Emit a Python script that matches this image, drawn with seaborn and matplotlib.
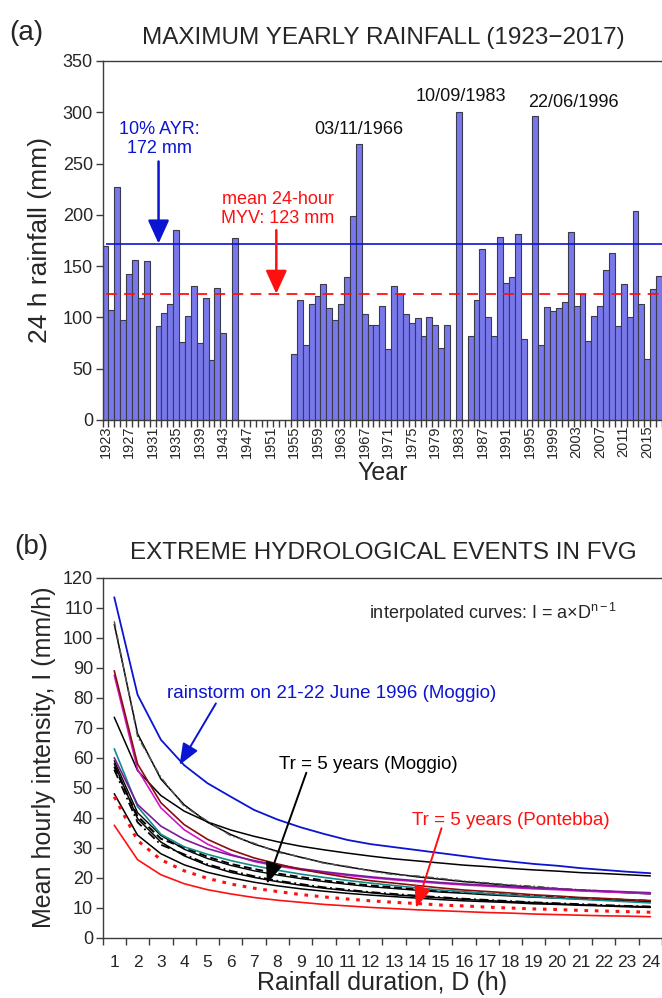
import numpy as np
import pandas as pd
import matplotlib
matplotlib.use("Agg")
import matplotlib.pyplot as plt
import seaborn as sns

# ---------------------------------------------------------------- data (a)
years = list(range(1923, 2018))
rain_24h = [
    170, 107, 227, 97, 142, 156, 119, 155, None, 92,      # 1923-1932
    104, 113, 185, 76, 101, 131, 75, 119, 58, 129,        # 1933-1942
    85, None, 177, None, None, None, None, None, None, None,  # 1943-1952
    None, None, 64, 117, 73, 113, 121, 133, 109, 97,      # 1953-1962
    113, 139, 199, 269, 103, 93, 93, 111, 69, 131,        # 1963-1972
    123, 103, 95, 99, 82, 100, 93, 70, 93, None,          # 1973-1982
    300, None, 82, 117, 167, 100, 82, 178, 134, 139,      # 1983-1992
    181, 79, None, 296, 73, 110, 106, 109, 115, 183,      # 1993-2002
    111, 123, 77, 101, 111, 146, 163, 92, 133, 100,       # 2003-2012
    204, 113, 59, 128, 140,                               # 2013-2017
]
ayr_10pct = 172      # 10 % annual yearly rainfall threshold (mm)
mean_myv = 123       # mean 24-hour maximum yearly value (mm)
event_dates = ["03/11/1966", "10/09/1983", "22/06/1996"]
event_label_years = [1966, 1983.3, 2002.4]
event_label_values = [283, 315, 310]

# ---------------------------------------------------------------- data (b)
duration_h = list(range(1, 25))
i_rainstorm_1996 = [113.5, 81.0, 66.0, 57.5, 51.5, 47.0, 42.6, 39.4, 36.8, 34.6, 32.6, 31.2,
                    30.2, 29.2, 28.2, 27.2, 26.2, 25.4, 24.6, 24.0, 23.2, 22.6, 22.0, 21.5]
i_black_upper = [73.5, 55.7, 47.4, 42.2, 38.6, 35.9, 33.8, 32.0, 30.5, 29.3, 28.2, 27.2,
                 26.3, 25.6, 24.9, 24.2, 23.7, 23.1, 22.6, 22.2, 21.7, 21.4, 21.0, 20.6]
i_black_steep = [104.5, 68.0, 52.9, 44.3, 38.5, 34.4, 31.2, 28.8, 26.8, 25.0, 23.6, 22.4,
                 21.3, 20.3, 19.5, 18.7, 18.1, 17.4, 16.8, 16.3, 15.8, 15.4, 15.0, 14.6]
i_black_steep_obs = [105.5, 67.0, 53.5, 43.8, 38.9, 34.0, 31.5, 28.5, 27.0, 24.8, 23.8, 22.2,
                     21.0, 20.6, 19.8, 18.9, 18.3, 17.6, 17.2, 16.5, 16.0, 15.6, 15.1, 14.8]
i_maroon = [89.0, 57.9, 45.0, 37.7, 32.8, 29.3, 26.6, 24.6, 22.8, 21.4, 20.1, 19.0,
            18.2, 17.4, 16.6, 15.9, 15.4, 14.9, 14.3, 13.9, 13.4, 13.1, 12.7, 12.4]
i_magenta = [87.5, 56.1, 43.3, 36.0, 31.2, 27.8, 25.4, 23.9, 22.7, 21.7, 20.8, 20.0,
             19.3, 18.7, 18.1, 17.6, 17.2, 16.7, 16.3, 16.0, 15.6, 15.3, 15.0, 14.7]
i_purple = [60.0, 44.4, 37.2, 32.8, 29.7, 27.5, 25.7, 24.2, 23.0, 22.0, 21.1, 20.3,
            19.6, 19.0, 18.4, 17.9, 17.5, 17.0, 16.6, 16.3, 15.9, 15.6, 15.3, 15.0]
i_teal = [63.0, 43.7, 34.5, 30.3, 27.8, 25.7, 24.0, 22.5, 21.2, 20.1, 19.1, 18.2,
          17.4, 16.6, 15.9, 15.3, 14.7, 14.2, 13.7, 13.2, 12.8, 12.4, 12.0, 11.6]
i_black_mid = [59.0, 41.7, 34.1, 29.5, 26.4, 24.1, 22.3, 20.9, 19.7, 18.7, 17.8, 17.0,
               16.4, 15.8, 15.2, 14.8, 14.3, 13.9, 13.5, 13.2, 12.9, 12.6, 12.3, 12.0]
i_black_mid_obs = [57.0, 40.5, 33.0, 30.0, 27.0, 24.6, 22.9, 21.4, 20.2, 19.1, 18.2, 17.4,
                   16.8, 16.1, 15.6, 15.1, 14.7, 14.3, 13.9, 13.5, 13.2, 12.9, 12.6, 12.3]
i_black_low = [58.0, 39.7, 31.9, 27.3, 24.1, 21.8, 20.1, 18.7, 17.5, 16.5, 15.7, 15.0,
               14.3, 13.8, 13.3, 12.8, 12.4, 12.0, 11.7, 11.3, 11.0, 10.7, 10.5, 10.3]
i_black_low_obs = [56.0, 38.5, 31.0, 27.8, 24.5, 22.3, 20.5, 19.0, 17.9, 16.8, 16.0, 15.2,
                   14.6, 14.0, 13.5, 13.0, 12.6, 12.2, 11.8, 11.5, 11.2, 10.9, 10.6, 10.4]
i_moggio_tr5 = [48.0, 34.2, 28.0, 24.3, 21.8, 20.0, 18.5, 17.3, 16.3, 15.5, 14.8, 14.2,
                13.7, 13.2, 12.7, 12.3, 12.0, 11.7, 11.3, 11.1, 10.8, 10.6, 10.3, 10.1]
i_pontebba_dotted = [47.0, 32.4, 26.0, 22.3, 19.8, 17.9, 16.5, 15.4, 14.4, 13.6, 12.9, 12.3,
                     11.8, 11.4, 10.9, 10.6, 10.2, 9.9, 9.6, 9.4, 9.1, 8.9, 8.7, 8.5]
i_pontebba_tr5 = [37.5, 26.0, 21.0, 18.0, 16.0, 14.6, 13.4, 12.5, 11.8, 11.1, 10.6, 10.1,
                  9.7, 9.3, 9.0, 8.7, 8.4, 8.2, 7.9, 7.7, 7.5, 7.3, 7.2, 7.0]

# ---------------------------------------------------------------- style
sns.set_style("ticks")
plt.rcParams["font.family"] = ["Liberation Sans", "DejaVu Sans"]
plt.rcParams["mathtext.fontset"] = "custom"
plt.rcParams["mathtext.rm"] = "Liberation Sans"
plt.rcParams["mathtext.it"] = "Liberation Sans:italic"

AX_COL = "#3c3c3c"
BLUE = "#0a14d2"
RED = "#ff1010"

fig = plt.figure(figsize=(6.62, 9.98), dpi=100)
ax1 = fig.add_axes([0.155, 0.5792, 0.845, 0.3597])
ax2 = fig.add_axes([0.155, 0.0604, 0.845, 0.3607])


def style_axes(ax):
    for side in ("left", "bottom", "top"):
        ax.spines[side].set_color(AX_COL)
        ax.spines[side].set_linewidth(1.0)
    ax.spines["right"].set_visible(False)
    ax.tick_params(axis="y", which="major", direction="out", length=5,
                   width=1, color=AX_COL, labelsize=13, pad=2)
    ax.tick_params(axis="x", which="major", length=0, labelsize=13)
    ax.tick_params(axis="x", which="minor", direction="out", length=5,
                   width=1, color=AX_COL)


# ---------------------------------------------------------------- panel (a)
year_cats = [str(y) for y in years]
df_a = pd.DataFrame({"year": year_cats, "rain": pd.array(rain_24h, dtype="Float64").astype(float)})
sns.barplot(data=df_a, x="year", y="rain", order=year_cats, color="#7878ec",
            edgecolor="#3a3a48", linewidth=0.8, width=1.0, saturation=1,
            errorbar=None, ax=ax1)
n = len(years)
ax1.set_xlim(-0.5, n - 0.5)
ax1.set_ylim(0, 350)
ax1.set_yticks(range(0, 351, 50))
ax1.set_xticks(range(0, n, 4))
ax1.set_xticklabels(year_cats[::4], rotation=90)
ax1.set_xticks(np.arange(-0.5, n, 1.0), minor=True)
style_axes(ax1)
ax1.tick_params(axis="x", which="major", labelsize=10.5, pad=4)
ax1.set_xlabel("Year", fontsize=18, va="center")
ax1.xaxis.set_label_coords(0.5, -0.147)
ax1.set_ylabel("24 h rainfall (mm)", fontsize=19, labelpad=8)

ax1.hlines(ayr_10pct, 0, n - 0.5, color=BLUE, lw=1.2, zorder=4)
ax1.hlines(mean_myv, 0, n - 0.5, color=RED, lw=1.3, linestyles=(0, (6, 4)), zorder=4)


def ix(year):
    return year - years[0]


ax1.annotate("", xy=(ix(1932), ayr_10pct), xytext=(ix(1932), 252),
             arrowprops=dict(arrowstyle="-|>,head_length=1.1,head_width=0.5",
                             color=BLUE, lw=1.8, mutation_scale=13,
                             shrinkA=0, shrinkB=0), zorder=5)
ax1.text(ix(1932.2), 274, f"10% AYR:\n{ayr_10pct} mm", color=BLUE, fontsize=13,
         ha="center", va="center", linespacing=1.15)
ax1.annotate("", xy=(ix(1952), mean_myv), xytext=(ix(1952), 185),
             arrowprops=dict(arrowstyle="-|>,head_length=1.1,head_width=0.5",
                             color=RED, lw=1.8, mutation_scale=13,
                             shrinkA=0, shrinkB=0), zorder=5)
ax1.text(ix(1952.2), 206, f"mean 24-hour\nMYV: {mean_myv} mm", color=RED, fontsize=13,
         ha="center", va="center", linespacing=1.15)
for label, yr, val in zip(event_dates, event_label_years, event_label_values):
    ax1.text(ix(yr), val, label, fontsize=13, ha="center", va="center", color="#111111")

fig.text(26 / 662, 1 - 33 / 998, "(a)", fontsize=20, ha="center", va="center")
fig.text(383 / 662, 1 - 38 / 998, "MAXIMUM YEARLY RAINFALL (1923\u22122017)",
         fontsize=17.5, ha="center", va="center")

# ---------------------------------------------------------------- panel (b)
curves = [
    (i_black_upper, "black", "-", 1.1),
    (i_black_steep, "black", "-", 1.1),
    (i_black_steep_obs, "#555555", (0, (5, 2, 1, 2)), 1.0),
    (i_black_mid, "black", "-", 1.0),
    (i_black_mid_obs, "black", (0, (4, 2)), 1.4),
    (i_black_low, "black", "-", 1.1),
    (i_black_low_obs, "black", (0, (5, 2, 1, 2)), 1.3),
    (i_moggio_tr5, "black", "-", 1.1),
    (i_teal, "#168a8a", "-", 1.2),
    (i_magenta, "#d414c8", "-", 1.2),
    (i_purple, "#7a1a9a", "-", 1.2),
    (i_maroon, "#8a0c0c", "-", 1.2),
    (i_pontebba_dotted, RED, (0, (1.2, 2.2)), 2.2),
    (i_pontebba_tr5, RED, "-", 1.2),
    (i_rainstorm_1996, BLUE, "-", 1.3),
]
for vals, col, ls, lw in curves:
    sns.lineplot(x=duration_h, y=vals, color=col, linestyle=ls, lw=lw, ax=ax2)

ax2.set_xlim(0.5, 24.5)
ax2.set_ylim(0, 120)
ax2.set_yticks(range(0, 121, 10))
ax2.set_xticks(duration_h)
ax2.set_xticks(np.arange(0.5, 24.6, 1.0), minor=True)
style_axes(ax2)
ax2.tick_params(axis="x", which="major", labelsize=12.5, pad=12.5)
ax2.set_xlabel("Rainfall duration, D (h)", fontsize=18, labelpad=1)
ax2.set_ylabel("Mean hourly intensity, I (mm/h)", fontsize=18, labelpad=5)

ax2.text(17.25, 108.2, "interpolated curves: I = a\u00d7D$^{\\mathrm{n-1}}$",
         fontsize=13, ha="center", va="center")
ax2.text(3.28, 81.4, "rainstorm on 21-22 June 1996 (Moggio)", color=BLUE,
         fontsize=13.5, ha="left", va="center")
ax2.text(11.9, 57.7, "Tr = 5 years (Moggio)", color="black", fontsize=13.5,
         ha="center", va="center")
ax2.text(18.0, 39.2, "Tr = 5 years (Pontebba)", color=RED, fontsize=13.5,
         ha="center", va="center")

arrow_b = dict(arrowstyle="-|>,head_length=1.0,head_width=0.4", lw=1.4,
               mutation_scale=13, shrinkA=0, shrinkB=0)
ax2.annotate("", xy=(3.8, 57.6), xytext=(5.36, 78.1),
             arrowprops=dict(color=BLUE, **arrow_b), zorder=6)
ax2.annotate("", xy=(7.55, 18.0), xytext=(9.24, 55.0),
             arrowprops=dict(color="black", **arrow_b), zorder=6)
ax2.annotate("", xy=(13.95, 10.0), xytext=(15.04, 36.5),
             arrowprops=dict(color=RED, **arrow_b), zorder=6)

fig.text(31 / 662, 1 - 547 / 998, "(b)", fontsize=20, ha="center", va="center")
fig.text(383 / 662, 1 - 553 / 998, "EXTREME HYDROLOGICAL EVENTS IN FVG",
         fontsize=17.5, ha="center", va="center")

fig.savefig("out.png", dpi=100)
